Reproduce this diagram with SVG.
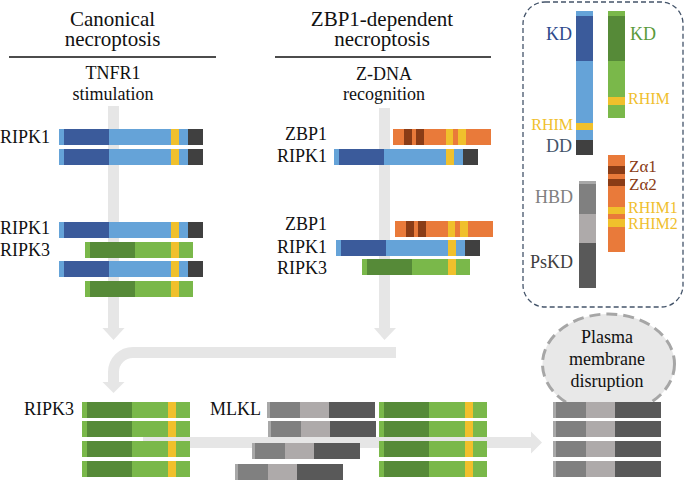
<svg xmlns="http://www.w3.org/2000/svg" xmlns:xlink="http://www.w3.org/1999/xlink" width="685" height="482" viewBox="0 0 685 482">
<style>
text{font-family:"Liberation Serif","Times New Roman",serif;fill:#111}
.t{font-size:21px;text-anchor:middle}
.s{font-size:18px;text-anchor:middle}
.l{font-size:18px}
.r{text-anchor:end}
.db{fill:#3b5b9b}.lb{fill:#65a3d8}.ye{fill:#f0c02c}.dk{fill:#404040}
.dg{fill:#568a38}.lg{fill:#7ab84a}.or{fill:#e97a3a}.br{fill:#8a3c16}
.mg{fill:#808080}.gl{fill:#aeaaaa}.gd{fill:#595959}.gs{fill:#a8a8a8}
.arr{fill:#e6e6e6}
.rule{stroke:#111;stroke-width:1.5}
</style>
<defs>
<g id="ripk1"><rect class="lb" x="0" y="0" width="5" height="16"/><rect class="db" x="5" y="0" width="45" height="16"/><rect class="lb" x="50" y="0" width="62" height="16"/><rect class="ye" x="112" y="0" width="8" height="16"/><rect class="lb" x="120" y="0" width="9" height="16"/><rect class="dk" x="129" y="0" width="15" height="16"/></g>
<g id="ripk3"><rect class="lg" x="0" y="0" width="5" height="16"/><rect class="dg" x="5" y="0" width="45" height="16"/><rect class="lg" x="50" y="0" width="36" height="16"/><rect class="ye" x="86" y="0" width="8" height="16"/><rect class="lg" x="94" y="0" width="14" height="16"/></g>
<g id="zbp1"><rect class="or" x="0" y="0" width="98" height="16"/><rect class="br" x="11" y="0" width="8" height="16"/><rect class="br" x="23" y="0" width="8" height="16"/><rect class="ye" x="53" y="0" width="7" height="16"/><rect class="ye" x="65" y="0" width="8" height="16"/></g>
<g id="mlkl"><rect class="gs" x="0" y="0" width="3" height="16"/><rect class="mg" x="3" y="0" width="30" height="16"/><rect class="gl" x="33" y="0" width="29" height="16"/><rect class="gd" x="62" y="0" width="46" height="16"/></g>
</defs>

<g id="connectors">
<path class="arr" d="M108,106 H119 V328 H124.5 L113.5,340 L102.5,328 H108 Z"/>
<path class="arr" d="M379,108 H390 V328 H396 L384.5,340 L374,328 H379 Z"/>
<path d="M396,352.5 H133 A19.5,19.5 0 0 0 113.5,372 V383" fill="none" stroke="#e6e6e6" stroke-width="11"/>
<path class="arr" d="M102.5,382 H124.5 L113.5,393 Z"/>
<path class="arr" d="M143,437 H531 V431.5 L542,442.5 L531,453.5 V448 H143 Z"/>
</g>

<g id="title-canonical">
<text class="t" x="112.5" y="26">Canonical</text>
<text class="t" x="112.5" y="46">necroptosis</text>
<line class="rule" x1="9" y1="57" x2="216" y2="57"/>
<text class="s" x="113" y="79">TNFR1</text>
<text class="s" x="113" y="100">stimulation</text>
</g>
<g id="title-zbp1">
<text class="t" x="382" y="26">ZBP1-dependent</text>
<text class="t" x="382" y="46">necroptosis</text>
<line class="rule" x1="275" y1="57" x2="491" y2="57"/>
<text class="s" x="384" y="80">Z-DNA</text>
<text class="s" x="384" y="100">recognition</text>
</g>

<g id="canonical-ripk1-dimer">
<text class="l" x="0" y="143">RIPK1</text>
<use xlink:href="#ripk1" x="59" y="129"/>
<use xlink:href="#ripk1" x="59" y="149"/>
</g>
<g id="canonical-necrosome">
<text class="l" x="0" y="234">RIPK1</text>
<text class="l" x="0" y="256">RIPK3</text>
<use xlink:href="#ripk1" x="59" y="222"/>
<use xlink:href="#ripk3" x="85" y="242"/>
<use xlink:href="#ripk1" x="59" y="261"/>
<use xlink:href="#ripk3" x="85" y="281"/>
</g>

<g id="zbp1-ripk1">
<text class="l r" x="327" y="140">ZBP1</text>
<text class="l r" x="327" y="162">RIPK1</text>
<use xlink:href="#zbp1" x="393" y="129"/>
<use xlink:href="#ripk1" x="334" y="149"/>
</g>
<g id="zbp1-necrosome">
<text class="l r" x="327" y="230">ZBP1</text>
<text class="l r" x="327" y="253">RIPK1</text>
<text class="l r" x="327" y="274">RIPK3</text>
<use xlink:href="#zbp1" x="395" y="221"/>
<use xlink:href="#ripk1" x="336" y="240"/>
<use xlink:href="#ripk3" x="362" y="259"/>
</g>

<g id="ripk3-oligomer">
<text class="l r" x="74" y="415">RIPK3</text>
<use xlink:href="#ripk3" x="82" y="402"/>
<use xlink:href="#ripk3" x="82" y="421"/>
<use xlink:href="#ripk3" x="82" y="441"/>
<use xlink:href="#ripk3" x="82" y="461"/>
</g>
<g id="mlkl-recruit">
<text class="l" x="210" y="415">MLKL</text>
<use xlink:href="#mlkl" x="267" y="402"/>
<use xlink:href="#mlkl" x="268" y="421"/>
<use xlink:href="#mlkl" x="252" y="443"/>
<use xlink:href="#mlkl" x="235" y="464"/>
</g>
<g id="ripk3-oligomer-2">
<use xlink:href="#ripk3" x="379" y="402"/>
<use xlink:href="#ripk3" x="379" y="421"/>
<use xlink:href="#ripk3" x="379" y="441"/>
<use xlink:href="#ripk3" x="379" y="461"/>
</g>

<g id="plasma-membrane">
<ellipse cx="608.5" cy="364" rx="66" ry="50" fill="#e8e8e8" stroke="#a6a6a6" stroke-width="3" stroke-dasharray="11,6"/>
<text class="s" x="607" y="343">Plasma</text>
<text class="s" x="607" y="365">membrane</text>
<text class="s" x="607" y="387">disruption</text>
</g>
<g id="mlkl-oligomer">
<use xlink:href="#mlkl" x="553" y="402"/>
<use xlink:href="#mlkl" x="553" y="421"/>
<use xlink:href="#mlkl" x="553" y="441"/>
<use xlink:href="#mlkl" x="553" y="461"/>
</g>

<g id="legend">
<rect x="523" y="2" width="160" height="305" rx="22" fill="none" stroke="#44546a" stroke-width="1.3" stroke-dasharray="5,3"/>
<g id="legend-ripk1">
<rect class="lb" x="576" y="11" width="17" height="5"/>
<rect class="db" x="576" y="16" width="17" height="45"/>
<rect class="lb" x="576" y="61" width="17" height="62"/>
<rect class="ye" x="576" y="123" width="17" height="7"/>
<rect class="lb" x="576" y="130" width="17" height="10"/>
<rect class="dk" x="576" y="140" width="17" height="15"/>
<text class="l r" x="572" y="40" style="fill:#2e4a8c">KD</text>
<text class="r" x="573" y="130" style="font-size:16px;fill:#f0c02c">RHIM</text>
<text class="l r" x="572" y="152" style="fill:#44546a">DD</text>
</g>
<g id="legend-ripk3">
<rect class="lg" x="608" y="11" width="17" height="5"/>
<rect class="dg" x="608" y="16" width="17" height="45"/>
<rect class="lg" x="608" y="61" width="17" height="36"/>
<rect class="ye" x="608" y="97" width="17" height="8"/>
<rect class="lg" x="608" y="105" width="17" height="13"/>
<text class="l" x="630" y="40" style="fill:#5a9a3a">KD</text>
<text x="628" y="104" style="font-size:16px;fill:#f0c02c">RHIM</text>
</g>
<g id="legend-zbp1">
<rect class="or" x="608" y="155" width="17" height="97"/>
<rect class="br" x="608" y="166" width="17" height="8"/>
<rect class="br" x="608" y="179" width="17" height="7"/>
<rect class="ye" x="608" y="207" width="17" height="7"/>
<rect class="ye" x="608" y="219" width="17" height="8"/>
<text x="629" y="172" style="font-size:17px;fill:#8a3c16">Zα1</text>
<text x="629" y="190" style="font-size:17px;fill:#8a3c16">Zα2</text>
<text x="628" y="213" style="font-size:16px;fill:#f0c02c">RHIM1</text>
<text x="628" y="229" style="font-size:16px;fill:#f0c02c">RHIM2</text>
</g>
<g id="legend-mlkl">
<rect class="gs" x="579" y="181" width="17" height="3"/>
<rect class="mg" x="579" y="184" width="17" height="30"/>
<rect class="gl" x="579" y="214" width="17" height="29"/>
<rect class="gd" x="579" y="243" width="17" height="45"/>
<text class="l r" x="573" y="203" style="fill:#808080">HBD</text>
<text class="l r" x="573" y="268" style="fill:#404040">PsKD</text>
</g>
</g>
</svg>
